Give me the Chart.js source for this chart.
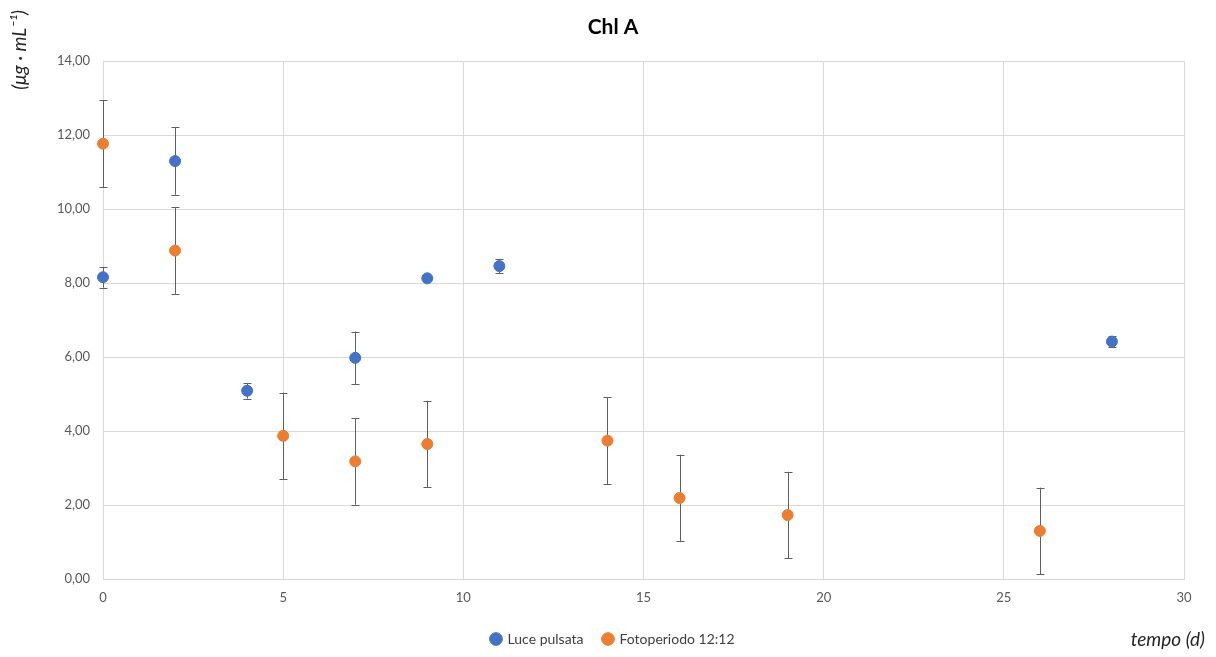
<!DOCTYPE html>
<html>
<head>
<meta charset="utf-8">
<script src="https://cdn.jsdelivr.net/npm/chart.js@4/dist/chart.umd.min.js"></script>
<style>
    html, body { margin: 0; padding: 0; background: #fff; }
    #wrap { width: 1216px; height: 657px; }
</style>
</head>
<body>
<div id="wrap"><canvas id="chl-a"></canvas></div>
<script>
// Luce pulsata
const luceX = [0, 2, 4, 7, 9, 11, 28];
const luceY = [8.16, 11.30, 5.09, 5.98, 8.13, 8.46, 6.42];
const luceErr = [0.28, 0.91, 0.21, 0.71, 0.03, 0.19, 0.15];

// Fotoperiodo 12:12
const fotoX = [0, 2, 5, 7, 9, 14, 16, 19, 26];
const fotoY = [11.77, 8.88, 3.87, 3.18, 3.65, 3.74, 2.19, 1.73, 1.30];
const fotoErr = [1.17, 1.17, 1.17, 1.17, 1.17, 1.17, 1.17, 1.17, 1.17];

const seriesNames = ["Luce pulsata", "Fotoperiodo 12:12"];
const chartTitle = "Chl A";
const xTitle = "tempo (d)";
const yTitle = "(\u03BCg \u00B7 mL\u207B\u00B9)";

const FONT = "Lato, 'Open Sans', sans-serif";

const toPoints = (xs, ys) => xs.map((x, i) => ({ x: x, y: ys[i] }));

// error bars drawn under the points, through the chart's scales
const errorBars = {
    id: "errorBars",
    beforeDatasetsDraw(chart) {
        const ctx = chart.ctx;
        const xs = chart.scales.x;
        const ys = chart.scales.y;
        const errs = [luceErr, fotoErr];
        ctx.save();
        ctx.strokeStyle = "#5f5f5f";
        ctx.lineWidth = 1;
        chart.data.datasets.forEach((ds, di) => {
            ds.data.forEach((p, i) => {
                const e = errs[di][i];
                const px = Math.round(xs.getPixelForValue(p.x)) + 0.5;
                const top = ys.getPixelForValue(p.y + e);
                const bot = ys.getPixelForValue(p.y - e);
                ctx.beginPath();
                ctx.moveTo(px, top);
                ctx.lineTo(px, bot);
                ctx.moveTo(px - 4, Math.round(top) + 0.5);
                ctx.lineTo(px + 4, Math.round(top) + 0.5);
                ctx.moveTo(px - 4, Math.round(bot) + 0.5);
                ctx.lineTo(px + 4, Math.round(bot) + 0.5);
                ctx.stroke();
            });
        });
        ctx.restore();
    },
};

// axis titles placed like the original (top left / bottom right)
const axisTitles = {
    id: "axisTitles",
    afterDraw(chart) {
        const ctx = chart.ctx;
        ctx.save();
        ctx.fillStyle = "#262626";
        ctx.font = "italic 19px " + FONT;
        ctx.textAlign = "right";
        ctx.textBaseline = "middle";
        ctx.fillText(xTitle, 1205, 640);
        ctx.translate(20, 10);
        ctx.rotate(-Math.PI / 2);
        ctx.textAlign = "right";
        ctx.fillText(yTitle, 0, 0);
        ctx.restore();
    },
};

new Chart(document.getElementById("chl-a"), {
    type: "scatter",
    data: {
        datasets: [
            {
                label: seriesNames[0],
                data: toPoints(luceX, luceY),
                backgroundColor: "#4472c4",
                borderColor: "#4472c4",
                pointRadius: 5.5,
                pointHoverRadius: 5.5,
                clip: false,
            },
            {
                label: seriesNames[1],
                data: toPoints(fotoX, fotoY),
                backgroundColor: "#ed7d31",
                borderColor: "#ed7d31",
                pointRadius: 5.5,
                pointHoverRadius: 5.5,
                clip: false,
            },
        ],
    },
    options: {
        responsive: true,
        maintainAspectRatio: false,
        animation: false,
        layout: {
            padding: { left: 10, right: 0, top: 0, bottom: 1 },
        },
        scales: {
            x: {
                type: "linear",
                min: 0,
                max: 30,
                ticks: {
                    stepSize: 5,
                    color: "#595959",
                    font: { family: FONT, size: 13 },
                    padding: 11,
                },
                grid: { color: "#d9d9d9", drawTicks: false },
                border: { color: "#d9d9d9" },
                afterFit: (scale) => {
                    scale.height = 33;
                },
            },
            y: {
                min: 0,
                max: 14,
                ticks: {
                    stepSize: 2,
                    color: "#595959",
                    font: { family: FONT, size: 13 },
                    padding: 13,
                    callback: (v) => v.toFixed(2).replace(".", ","),
                },
                grid: { color: "#d9d9d9", drawTicks: false },
                border: { color: "#d9d9d9" },
                afterFit: (scale) => {
                    scale.width = 93;
                },
            },
            // empty right-hand spacer so the plot ends where the original does
            yRight: {
                type: "linear",
                position: "right",
                min: 0,
                max: 14,
                ticks: { display: false },
                grid: { display: false },
                border: { display: false },
                afterFit: (scale) => {
                    scale.width = 32;
                },
            },
        },
        plugins: {
            title: {
                display: true,
                text: chartTitle,
                color: "#000",
                font: { family: FONT, size: 21, weight: "bold" },
                padding: { top: 15, bottom: 21 },
            },
            legend: {
                position: "bottom",
                labels: {
                    usePointStyle: true,
                    pointStyle: "circle",
                    boxWidth: 9,
                    boxHeight: 9,
                    color: "#404040",
                    font: { family: FONT, size: 14 },
                    padding: 20,
                },
            },
            tooltip: { enabled: false },
        },
    },
    plugins: [errorBars, axisTitles],
});
</script>
</body>
</html>
